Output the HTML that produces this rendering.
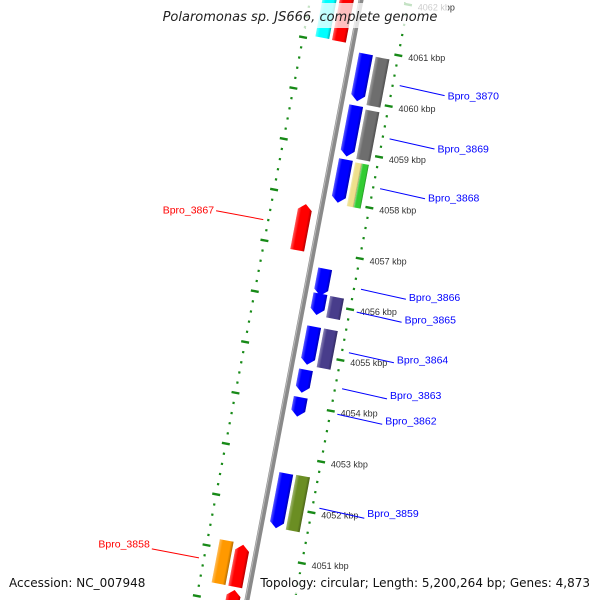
<!DOCTYPE html>
<html><head><meta charset="utf-8"><style>
html,body{margin:0;padding:0;background:#fff;width:600px;height:600px;overflow:hidden}
svg{display:block;font-family:"Liberation Sans",sans-serif}
</style></head><body>
<svg id="map" width="600" height="600" viewBox="0 0 600 600" xmlns="http://www.w3.org/2000/svg">
<defs>
<linearGradient id="shade" x1="0" y1="0" x2="1" y2="0">
<stop offset="0" stop-color="#fff" stop-opacity="0.35"/>
<stop offset="0.25" stop-color="#fff" stop-opacity="0"/>
<stop offset="0.8" stop-color="#000" stop-opacity="0"/>
<stop offset="1" stop-color="#000" stop-opacity="0.3"/>
</linearGradient>
</defs>
<g id="rot" transform="translate(304,300) rotate(10.76)"></g>
<g id="over"></g>
<rect x="152" y="3" width="296" height="25" fill="#fff" opacity="0.75"/>
<text x="300" y="21" text-anchor="middle" font-size="13" font-style="italic" fill="#222" font-family="DejaVu Sans, sans-serif">Polaromonas sp. JS666, complete genome</text>
<rect x="5" y="574" width="142" height="20" fill="#fff" opacity="0.75"/>
<rect x="258" y="574" width="336" height="20" fill="#fff" opacity="0.75"/>
<text x="9" y="587" font-size="12" fill="#111" font-family="DejaVu Sans, sans-serif">Accession: NC_007948</text>
<text x="590" y="587" text-anchor="end" font-size="12" fill="#111" font-family="DejaVu Sans, sans-serif">Topology: circular; Length: 5,200,264 bp; Genes: 4,873</text>
</svg>
<script>
// gene data (kbp)
const geneNames = ["top-cyan","top-red","Bpro_3870","Bpro_3870b","Bpro_3869","Bpro_3869b","Bpro_3868","Bpro_3868y","Bpro_3868g","Bpro_3867","Bpro_3866","Bpro_3865","Bpro_3865b","Bpro_3864","Bpro_3864b","Bpro_3863","Bpro_3862","Bpro_3859","Bpro_3859b","Bpro_3858o","Bpro_3858","bottom-red"];
const geneStart = [4061.06,4061.05,4059.98,4059.94,4058.89,4058.88,4057.98,4057.95,4057.95,4056.93,4056.15,4055.77,4055.76,4054.79,4054.78,4054.24,4053.77,4051.57,4051.58,4050.31,4050.31,4049.5];
const geneEnd   = [4062.2,4062.2,4060.91,4060.89,4059.89,4059.85,4058.83,4058.81,4058.81,4057.84,4056.68,4056.19,4056.18,4055.54,4055.54,4054.69,4054.15,4052.65,4052.66,4051.16,4051.14,4050.25];
const geneLane  = [-31,-14,15,32,15,32,15,28,35,-16,15,15,32,15,32,15,15,15,32,-31,-14,-14];
const geneWidth = [14,14,14,14,14,14,14,7,7,14,14,14,14,14,14,14,14,14,14,14,14,14];
const geneStrand= [0,0,-1,0,-1,0,-1,0,0,1,-1,-1,0,-1,0,-1,-1,-1,0,0,1,1];
const geneColor = ["#00ffff","#ff0000","#0000ff","#6e6e6e","#0000ff","#6e6e6e","#0000ff","#eee08c","#33cc33","#ff0000","#0000ff","#0000ff","#483d8b","#0000ff","#483d8b","#0000ff","#0000ff","#0000ff","#6b8e23","#ff9900","#ff0000","#ff0000"];
// labels
const labelText = ["Bpro_3870","Bpro_3869","Bpro_3868","Bpro_3867","Bpro_3866","Bpro_3865","Bpro_3864","Bpro_3863","Bpro_3862","Bpro_3859","Bpro_3858"];
const labelPos  = [4060.43,4059.38,4058.40,4057.39,4056.42,4055.97,4055.17,4054.46,4053.96,4052.11,4050.73];
const labelSide = [1,1,1,-1,1,1,1,1,1,1,-1];
// ticks
const tickMin = 4049, tickMax = 4064;

const C=Math.cos(10.76*Math.PI/180), S=Math.sin(10.76*Math.PI/180);
const PX=51.7, REF=4056.01;
function ly(k){return (REF-k)*PX;}
function proj(lx,l){return [304+C*lx-S*l, 300+S*lx+C*l];}
const NS="http://www.w3.org/2000/svg";
const rot=document.getElementById('rot'), over=document.getElementById('over');
function mk(tag,attrs,parent){const e=document.createElementNS(NS,tag);for(const k in attrs)e.setAttribute(k,attrs[k]);parent.appendChild(e);return e;}

// backbone
let bb=mk('line',{x1:0,y1:-360,x2:0,y2:360,stroke:'#8a8a8a','stroke-width':5},rot);


let bh=mk('line',{x1:-1.5,y1:-360,x2:-1.5,y2:360,stroke:'#bbbbbb','stroke-width':1},rot);



// ruler rings
[47,-50].forEach(function(rx,ri){
  for(let i=Math.round(tickMin*5);i<=tickMax*5;i++){
    const k=i/5, y=ly(k);
    if(y<-340||y>340) continue;
    let e;
    if(i%5===0){
      e=mk('rect',{x:rx-4,y:y-1.2,width:8,height:2.4,fill:'#178a17'},rot);
      
      
      if(ri===0){
        const p=proj(57,y);
        if(p[1]>-5 && p[1]<600){
        const t=mk('text',{x:p[0].toFixed(1),y:(p[1]+4).toFixed(1),'font-size':9,fill:'#333'},over);
        t.textContent=k+' kbp';
        
        
        }
      }
    } else {
      e=mk('rect',{x:rx-1.1,y:y-1.1,width:2.2,height:2.2,fill:'#178a17'},rot);
      
      
    }
  }
});

// genes
for(let i=0;i<geneNames.length;i++){
  const x0=geneLane[i]-geneWidth[i]/2, x1=geneLane[i]+geneWidth[i]/2;
  const yTop=ly(geneEnd[i]), yBot=ly(geneStart[i]), cx=geneLane[i], ah=6;
  let pts;
  if(geneStrand[i]===-1) pts=[[x0,yTop],[x1,yTop],[x1,yBot-ah],[cx,yBot],[x0,yBot-ah]];
  else if(geneStrand[i]===1) pts=[[cx,yTop],[x1,yTop+ah],[x1,yBot],[x0,yBot],[x0,yTop+ah]];
  else pts=[[x0,yTop],[x1,yTop],[x1,yBot],[x0,yBot]];
  const ps=pts.map(p=>p[0].toFixed(1)+','+p[1].toFixed(1)).join(' ');
  const g=mk('polygon',{points:ps,fill:geneColor[i]},rot);
  
  
  const s=mk('polygon',{points:ps,fill:'url(#shade)'},rot);
  
  
}

// labels
for(let i=0;i<labelText.length;i++){
  const y=ly(labelPos[i]), side=labelSide[i];
  const a=proj(side>0?54:-55,y), b=proj(side>0?100:-103,y+(side>0?1.5:0));
  const col=side>0?'#0000ff':'#ff0000';
  const ln=mk('line',{x1:a[0].toFixed(1),y1:a[1].toFixed(1),x2:b[0].toFixed(1),y2:b[1].toFixed(1),stroke:col,'stroke-width':1},over);
  
  
  const ty=b[1]+4-(b[1]-97)*0.012;
  const t=mk('text',{x:(b[0]+(side>0?3:-2)).toFixed(1),y:ty.toFixed(1),'font-size':10.5,fill:col,'text-anchor':side>0?'start':'end'},over);
  t.textContent=labelText[i];
  
  
}
</script>
</body></html>
